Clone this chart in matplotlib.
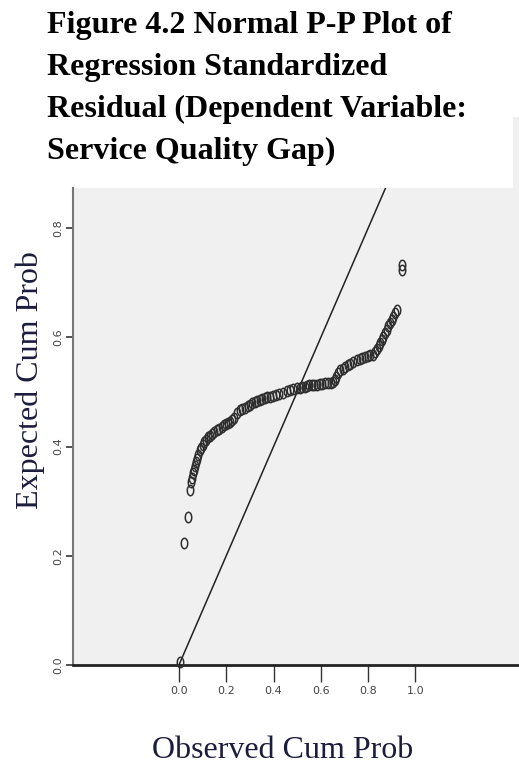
import numpy as np
import matplotlib.pyplot as plt
from matplotlib.path import Path
from matplotlib.patches import Rectangle

# valores (P-P plot dos residuos)
observed_cum_prob = [0.004, 0.021, 0.038, 0.047, 0.051, 0.055, 0.059, 0.063, 0.068, 0.072,
                     0.076, 0.082, 0.089, 0.095, 0.101, 0.108, 0.114, 0.123, 0.131, 0.140,
                     0.150, 0.161, 0.171, 0.182, 0.190, 0.199, 0.208, 0.216, 0.225, 0.233,
                     0.245, 0.258, 0.268, 0.279, 0.290, 0.300, 0.311, 0.321, 0.332, 0.342,
                     0.353, 0.364, 0.374, 0.385, 0.398, 0.410, 0.425, 0.440, 0.455, 0.469,
                     0.484, 0.499, 0.510, 0.520, 0.531, 0.541, 0.552, 0.562, 0.573, 0.584,
                     0.595, 0.605, 0.618, 0.630, 0.641, 0.651, 0.658, 0.664, 0.672, 0.681,
                     0.692, 0.702, 0.713, 0.723, 0.738, 0.753, 0.764, 0.774, 0.787, 0.799,
                     0.810, 0.820, 0.829, 0.837, 0.844, 0.850, 0.857, 0.863, 0.872, 0.880,
                     0.886, 0.892, 0.899, 0.905, 0.914, 0.922, 0.943, 0.943]
expected_cum_prob = [0.006, 0.223, 0.271, 0.321, 0.335, 0.343, 0.352, 0.358, 0.364, 0.371,
                     0.377, 0.385, 0.394, 0.398, 0.403, 0.408, 0.412, 0.418, 0.420, 0.423,
                     0.427, 0.430, 0.433, 0.436, 0.439, 0.441, 0.443, 0.445, 0.448, 0.452,
                     0.462, 0.467, 0.469, 0.471, 0.474, 0.476, 0.479, 0.482, 0.484, 0.485,
                     0.487, 0.489, 0.490, 0.491, 0.493, 0.495, 0.497, 0.498, 0.501, 0.504,
                     0.506, 0.507, 0.508, 0.509, 0.510, 0.511, 0.512, 0.513, 0.513, 0.513,
                     0.514, 0.515, 0.516, 0.516, 0.517, 0.518, 0.522, 0.527, 0.534, 0.540,
                     0.543, 0.546, 0.549, 0.551, 0.555, 0.559, 0.561, 0.562, 0.564, 0.566,
                     0.567, 0.568, 0.573, 0.579, 0.585, 0.590, 0.596, 0.601, 0.608, 0.614,
                     0.620, 0.626, 0.632, 0.637, 0.644, 0.650, 0.723, 0.733]
x_ticks = [0.0, 0.2, 0.4, 0.6, 0.8, 1.0]
x_tick_labels = ["0.0", "0.2", "0.4", "0.6", "0.8", "1.0"]
y_ticks = [0.0, 0.2, 0.4, 0.6, 0.8]
y_tick_labels = ["0.0", "0.2", "0.4", "0.6", "0.8"]
ref_line = [0.0, 1.0]

fig = plt.figure(figsize=(5.19, 7.65), dpi=100)
fig.patch.set_facecolor('white')

# area do grafico
ax = fig.add_axes([73 / 519, 1 - 665 / 765, 1 - 73 / 519, (665 - 188) / 765])
ax.set_facecolor('#f0f0f0')
ax.set_xlim(-0.448, 1.438)
ax.set_ylim(0, 0.8736)

# marcador oval vazado
t = np.linspace(0, 2 * np.pi, 40)
oval = Path(np.column_stack([0.62 * np.cos(t), np.sin(t)]))

ax.plot(ref_line, ref_line, color='#222222', lw=1.1, zorder=2)
ax.plot(observed_cum_prob, expected_cum_prob, linestyle='none', marker=oval,
        markersize=7.5, markerfacecolor='none', markeredgecolor='#2e2e2e',
        markeredgewidth=1.1, zorder=3, clip_on=False)

ax.set_xticks(x_ticks)
ax.set_xticklabels(x_tick_labels, fontsize=8, color='#444444')
ax.set_yticks(y_ticks)
ax.set_yticklabels(y_tick_labels, fontsize=8, color='#444444', rotation=90, va='center')
ax.tick_params(axis='x', length=12, width=1, color='#333333', pad=3)
ax.tick_params(axis='y', length=5, width=1.2, color='#333333', pad=2)

for s in ['top', 'right']:
    ax.spines[s].set_visible(False)
ax.spines['left'].set_color('#777777')
ax.spines['left'].set_linewidth(1.5)
ax.spines['bottom'].set_color('#222222')
ax.spines['bottom'].set_linewidth(2)

fig.text(30 / 519, 1 - 380 / 765, "Expected Cum Prob", rotation=90, ha='center', va='center',
         fontsize=23, family='Liberation Serif', color='#1c1c3c')
fig.text(283 / 519, 1 - 750 / 765, "Observed Cum Prob", ha='center', va='center',
         fontsize=23, family='Liberation Serif', color='#1c1c3c')

# pedacinho cinza no canto superior direito
fig.patches.append(Rectangle((513 / 519, 1 - 188 / 765), 6 / 519, 71 / 765,
                             transform=fig.transFigure, facecolor='#f0f0f0',
                             edgecolor='none', zorder=0))

title_lines = ["Figure 4.2 Normal P-P Plot of",
               "Regression Standardized",
               "Residual (Dependent Variable:",
               "Service Quality Gap)"]
for i, line in enumerate(title_lines):
    fig.text(47 / 519, 1 - (25 + 42 * i) / 765, line, ha='left', va='center',
             fontsize=23, fontweight='bold', family='Liberation Serif', color='black')

fig.savefig('out.png', dpi=100)
